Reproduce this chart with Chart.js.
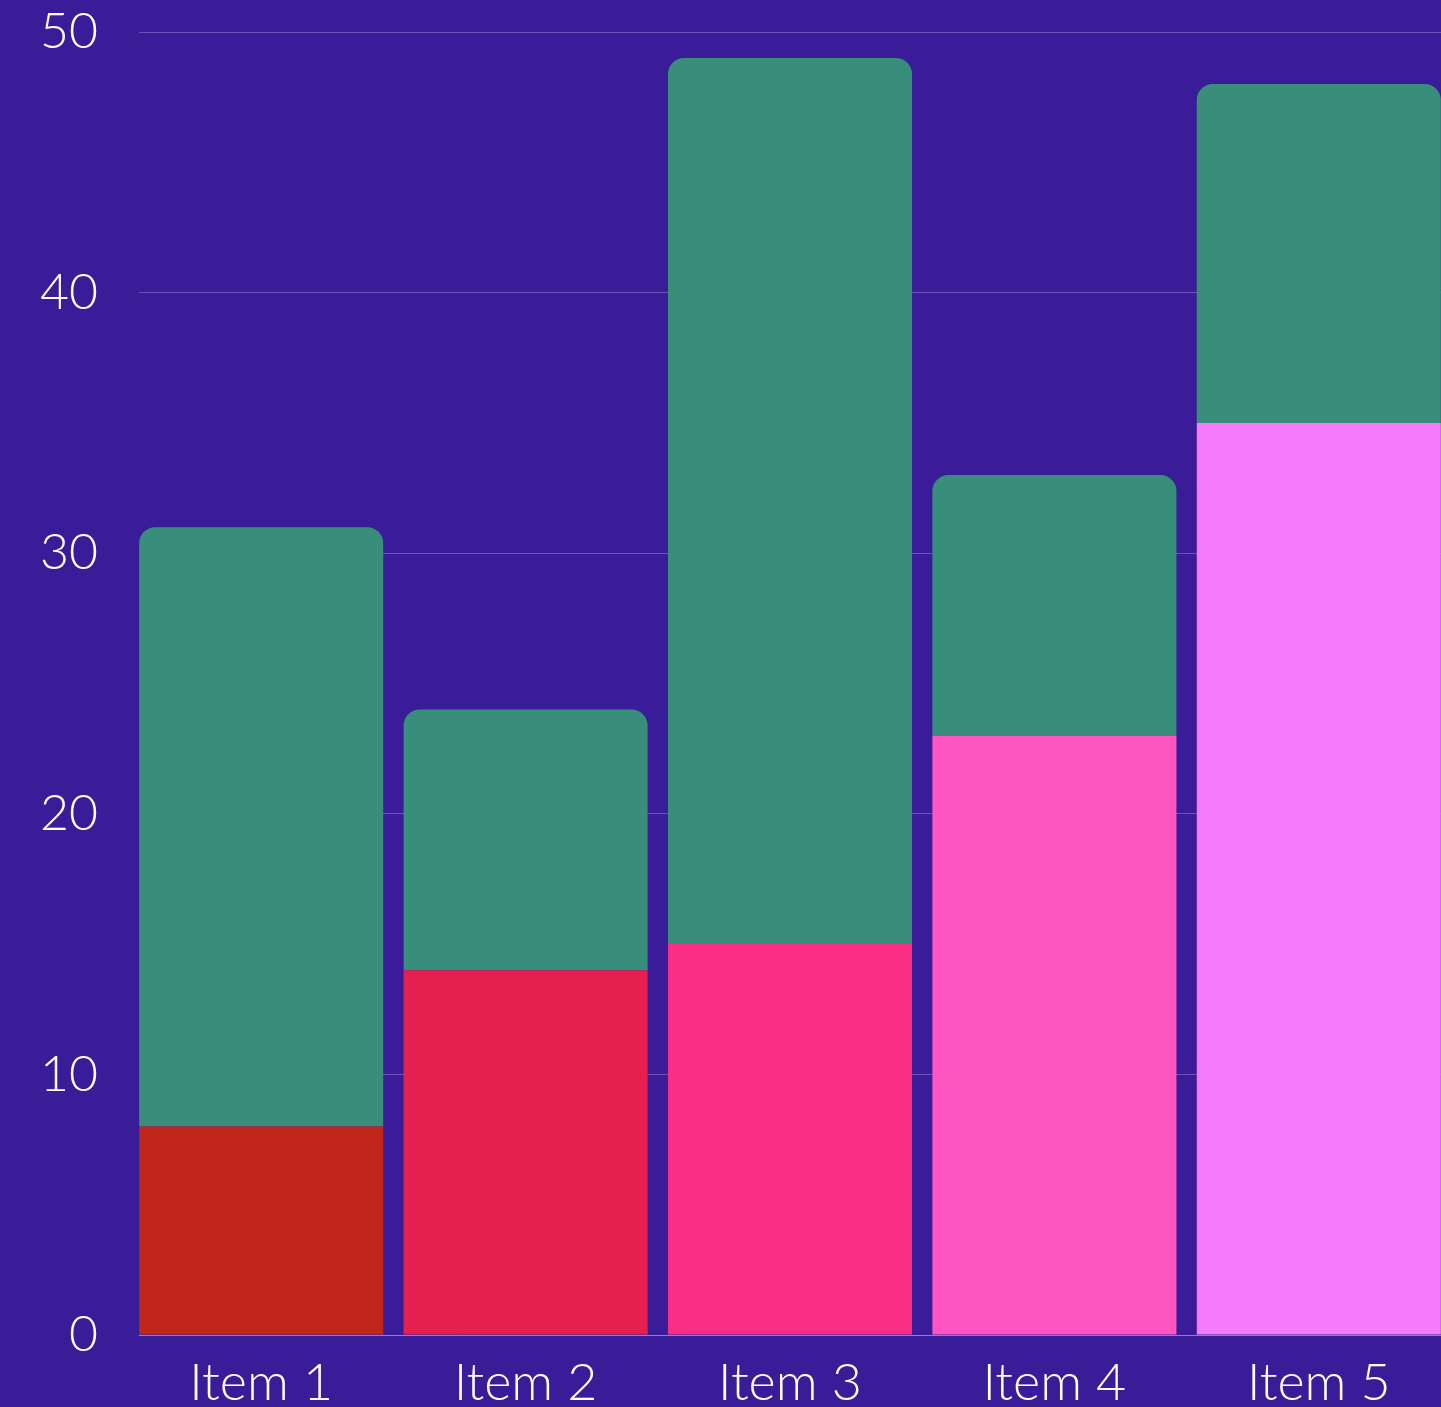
<!DOCTYPE html>
<html>
<head>
<meta charset="utf-8">
<script src="https://cdn.jsdelivr.net/npm/chart.js@4"></script>
<style>
  html, body { margin: 0; padding: 0; background: #3a1c98; overflow: hidden; }
  #wrap { width: 1451px; height: 1407px; }
</style>
</head>
<body>
<div id="wrap"><canvas id="myChart"></canvas></div>
<script>
'use strict'

const items = ['Item 1', 'Item 2', 'Item 3', 'Item 4', 'Item 5'];
const baseValues = [8, 14, 15, 23, 35];
const topValues = [23, 10, 34, 10, 13];
const baseColors = ['#c0271a', '#e51f4e', '#fb2e86', '#ff55c0', '#f47cfc'];
const topColor = '#388e7a';
const yTicks = [0, 10, 20, 30, 40, 50];

Chart.defaults.font.family = 'Lato, Inter, sans-serif';
Chart.defaults.font.weight = 300;
Chart.defaults.color = '#ffffff';

// grid lines start at the first bar's edge, not at the chart area edge
const trimGrid = {
  id: 'trimGrid',
  beforeDatasetsDraw(chart) {
    const area = chart.chartArea;
    const c = chart.ctx;
    c.save();
    c.fillStyle = '#3a1c98';
    c.fillRect(area.left - 1, area.top - 2, 11, area.bottom - area.top + 4);
    c.restore();
  }
};

let ctx = document.getElementById('myChart');

new Chart(ctx, {
  type: 'bar',
  data: {
    labels: items,
    datasets: [{
      label: 'Base',
      data: baseValues,
      backgroundColor: baseColors,
      borderRadius: 0
    }, {
      label: 'Top',
      data: topValues,
      backgroundColor: topColor,
      borderRadius: { topLeft: 16, topRight: 16, bottomLeft: 0, bottomRight: 0 },
      borderSkipped: false
    }]
  },
  options: {
    responsive: true,
    maintainAspectRatio: false,
    animation: false,
    categoryPercentage: 1,
    barPercentage: 0.923,
    layout: { padding: { top: 32, right: 0, left: 0, bottom: 0 } },
    plugins: {
      legend: { display: false },
      tooltip: { enabled: false }
    },
    scales: {
      x: {
        stacked: true,
        grid: { display: false },
        border: { color: 'rgba(255,255,255,0.25)' },
        ticks: { font: { size: 52 }, padding: 9, maxRotation: 0 },
        afterFit: (scale) => { scale.height = 72; }
      },
      y: {
        stacked: true,
        min: 0,
        max: 50,
        afterBuildTicks: (scale) => { scale.ticks = yTicks.map(v => ({ value: v })); },
        grid: { color: 'rgba(255,255,255,0.25)', drawTicks: false },
        border: { display: false },
        ticks: { font: { size: 50 }, padding: 31 },
        afterFit: (scale) => {
          scale.width = 129;
          scale.paddingTop = 0;
          scale.paddingBottom = 0;
        }
      }
    }
  },
  plugins: [trimGrid]
});
</script>
</body>
</html>
